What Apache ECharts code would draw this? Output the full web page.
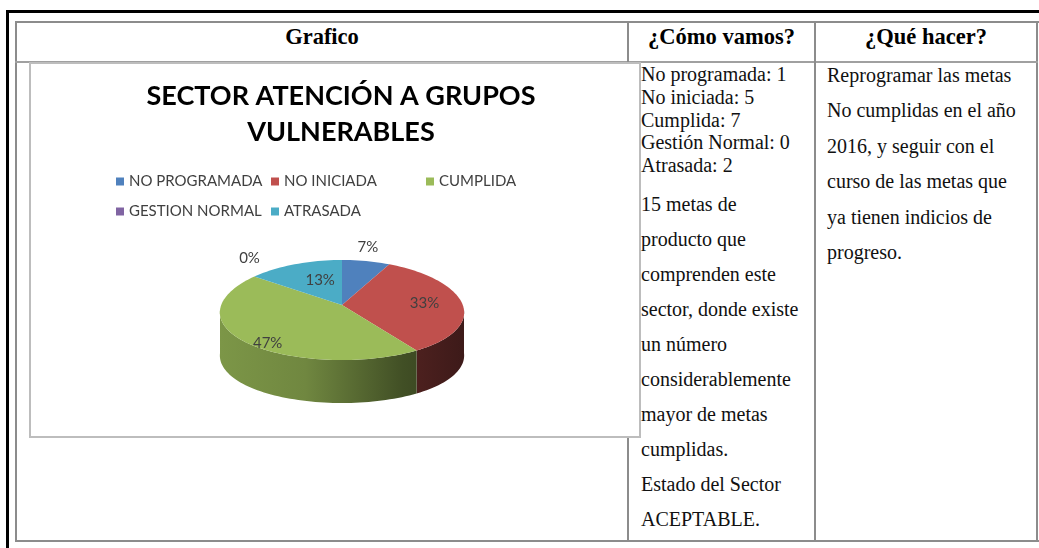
<!DOCTYPE html>
<html>
<head>
<meta charset="utf-8">
<script src="https://cdn.jsdelivr.net/npm/echarts@6/dist/echarts.min.js"></script>
<style>
body{margin:0;width:1039px;height:548px;overflow:hidden;background:#fff;position:relative;font-family:"Liberation Serif","Times New Roman",serif;color:#000;}
.ln{position:absolute;background:#8c8c8c;}
.frame{position:absolute;background:#000;}
.hd{position:absolute;top:24px;height:26px;font-weight:bold;font-size:22.5px;line-height:26px;text-align:center;}
.tx{position:absolute;font-size:20px;line-height:22px;white-space:nowrap;color:#111;}
#box{position:absolute;left:29px;top:62px;width:612px;height:376px;box-sizing:border-box;border:2px solid #bdbdbd;background:#fff;}
#main{position:absolute;left:0;top:0;width:1039px;height:548px;}
</style>
</head>
<body>
<!-- marco de la pagina -->
<div class="frame" style="left:6px;top:10px;width:1033px;height:3px;"></div>
<div class="frame" style="left:6px;top:10px;width:3px;height:538px;"></div>

<!-- tabla -->
<div class="ln" style="left:15px;top:21px;width:1024px;height:2px;"></div>
<div class="ln" style="left:15px;top:540px;width:1024px;height:2px;"></div>
<div class="ln" style="left:15px;top:21px;width:2px;height:521px;"></div>
<div class="ln" style="left:1036px;top:21px;width:2px;height:521px;"></div>
<div class="ln" style="left:15px;top:61px;width:1023px;height:2px;background:#a0a0a0;"></div>
<div class="ln" style="left:627px;top:21px;width:2px;height:521px;"></div>
<div class="ln" style="left:814px;top:21px;width:2px;height:521px;"></div>

<div class="hd" style="left:17px;width:610px;">Grafico</div>
<div class="hd" style="left:629px;width:185px;">¿Cómo vamos?</div>
<div class="hd" style="left:816px;width:220px;">¿Qué hacer?</div>

<div id="box"></div>
<div id="texts"></div>
<div id="main"></div>

<script type="text/javascript">
// datos del grafico
var categories = ['NO PROGRAMADA', 'NO INICIADA', 'CUMPLIDA', 'GESTION NORMAL', 'ATRASADA'];
var values = [1, 5, 7, 0, 2];
var palette = ['#4F81BD', '#C0504D', '#9BBB59', '#8064A2', '#4BACC6'];

// textos de la tabla
var resumen = ['No programada: 1', 'No iniciada: 5', 'Cumplida: 7', 'Gestión Normal: 0', 'Atrasada: 2'];
var comentario = ['15 metas de', 'producto que', 'comprenden este', 'sector, donde existe', 'un número',
                  'considerablemente', 'mayor de metas', 'cumplidas.', 'Estado del Sector', 'ACEPTABLE.'];
var acciones = ['Reprogramar las metas', 'No cumplidas en el año', '2016, y seguir con el',
                'curso de las metas que', 'ya tienen indicios de', 'progreso.'];

var holder = document.getElementById('texts');
function addLine(x, yc, txt){
    var d = document.createElement('div');
    d.className = 'tx';
    d.style.left = x + 'px';
    d.style.top = (yc - 11) + 'px';
    d.textContent = txt;
    holder.appendChild(d);
}
resumen.forEach(function(t, i){ addLine(641, 74 + 22.75 * i, t); });
comentario.forEach(function(t, i){ addLine(641, 204 + 35 * i, t); });
acciones.forEach(function(t, i){ addLine(827, 75 + 35.4 * i, t); });

// pastel 3D (elipse + lateral)
var PIE = {cx: 342, cy: 310, rx: 122, ry: 50, depth: 43, persp: 0.05, lift: 5};
var labelFit = [[1.02, 1.19], [0.68, 0.38], [0.82, 1.13], [1.02, 1.4], [0.44, 0.55]];

var total = values.reduce(function(a, b){ return a + b; }, 0);
var starts = [];
var acc = 0;
values.forEach(function(v){ starts.push(acc); acc += v; });

function shade(hex, f){
    var n = parseInt(hex.slice(1), 16);
    var r = Math.round(((n >> 16) & 255) * f), g = Math.round(((n >> 8) & 255) * f), b = Math.round((n & 255) * f);
    return 'rgb(' + r + ',' + g + ',' + b + ')';
}
function pt(deg, dy){
    var a = deg * Math.PI / 180, u = Math.sin(a), v = -Math.cos(a);
    return [PIE.cx + PIE.rx * u * (1 + PIE.persp * v), PIE.cy + PIE.ry * v + (dy || 0)];
}
function arc(a0, a1, dy){
    var pts = [];
    var n = Math.max(2, Math.ceil((a1 - a0) / 2));
    for (var i = 0; i <= n; i++) pts.push(pt(a0 + (a1 - a0) * i / n, dy));
    return pts;
}
function sideFill(color){
    return {
        type: 'linear', global: true,
        x: PIE.cx - PIE.rx, y: 0, x2: PIE.cx + PIE.rx, y2: 0,
        colorStops: [
            {offset: 0, color: shade(color, 0.8)},
            {offset: 0.35, color: shade(color, 0.72)},
            {offset: 0.75, color: shade(color, 0.42)},
            {offset: 1, color: shade(color, 0.32)}
        ]
    };
}

function sliceRenderer(i){
    return function(params, api){
        var v = api.value(0);
        var a0 = starts[i] / total * 360, a1 = a0 + v / total * 360;
        var color = palette[i];
        var children = [];
        var s0 = Math.max(a0, 90), s1 = Math.min(a1, 270);
        if (s1 > s0) {
            var top = arc(s0, s1, 0), bottom = arc(s0, s1, PIE.depth).reverse();
            children.push({type: 'polygon', shape: {points: top.concat(bottom)}, style: {fill: sideFill(color)}});
        }
        if (a1 > a0) {
            children.push({type: 'polygon', z2: 2,
                shape: {points: [[PIE.cx, PIE.cy - PIE.lift]].concat(arc(a0, a1, 0))},
                style: {fill: color}});
        }
        var mid = (a0 + a1) / 2 * Math.PI / 180, k = labelFit[i];
        children.push({
            type: 'text', z2: 10,
            x: PIE.cx + PIE.rx * Math.sin(mid) * k[0],
            y: PIE.cy - PIE.lift - PIE.ry * Math.cos(mid) * k[1],
            style: {text: Math.round(v / total * 100) + '%', align: 'center', verticalAlign: 'middle',
                    fill: '#404040', fontSize: 15, fontFamily: 'Lato'}
        });
        return {type: 'group', children: children};
    };
}

var myChart = echarts.init(document.getElementById('main'));
var option = {
    animation: false,
    color: palette,
    title: {
        text: 'SECTOR ATENCIÓN A GRUPOS\nVULNERABLES',
        left: 341, top: 78, padding: 0,
        textAlign: 'center',
        textStyle: {fontFamily: 'Lato', fontWeight: 'bold', fontSize: 27, lineHeight: 36, color: '#000'}
    },
    legend: categories.map(function(name, i){
        return {
            data: [name],
            left: 116 + 155 * (i % 3),
            top: 174 + 30 * Math.floor(i / 3),
            padding: 0, icon: 'rect', itemWidth: 8, itemHeight: 8,
            selectedMode: false,
            textStyle: {fontFamily: 'Lato', fontSize: 15, color: '#404040'}
        };
    }),
    series: categories.map(function(name, i){
        return {
            type: 'custom',
            name: name,
            coordinateSystem: 'none',
            itemStyle: {color: palette[i]},
            renderItem: sliceRenderer(i),
            data: [[values[i]]]
        };
    })
};
myChart.setOption(option);
window.onresize = myChart.resize;
</script>
</body>
</html>
